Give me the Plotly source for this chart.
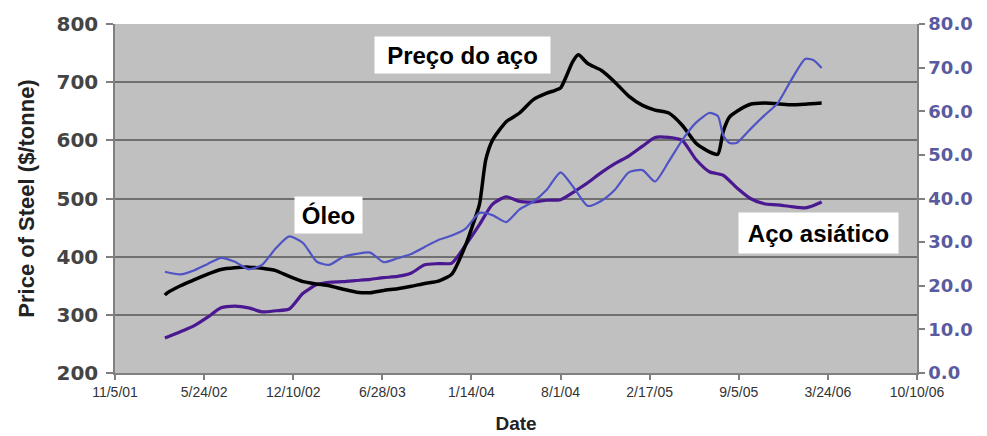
import plotly.graph_objects as go

# ---- data ----
steel_dates = ["2002-02-25", "2002-03-01", "2002-04-01", "2002-05-01", "2002-06-01", "2002-07-01",
               "2002-08-01", "2002-09-01", "2002-10-01", "2002-11-01", "2002-12-01",
               "2003-01-01", "2003-02-01", "2003-03-01", "2003-04-01", "2003-05-01", "2003-06-01",
               "2003-07-01", "2003-08-01", "2003-09-01", "2003-10-01", "2003-11-01", "2003-12-01",
               "2004-01-01", "2004-01-15", "2004-02-01", "2004-02-15", "2004-03-01", "2004-04-01",
               "2004-05-01", "2004-06-01", "2004-07-01", "2004-07-20", "2004-08-01", "2004-08-15",
               "2004-08-28", "2004-09-10", "2004-10-01", "2004-11-01", "2004-12-01",
               "2005-01-01", "2005-02-01", "2005-03-01", "2005-04-01", "2005-05-01", "2005-06-01",
               "2005-07-01", "2005-07-20", "2005-08-01", "2005-08-15", "2005-09-01", "2005-10-01",
               "2005-11-01", "2005-12-01", "2006-01-01", "2006-02-01", "2006-03-10"]
steel_price = [334, 337, 350, 360, 370, 378,
               381, 382, 380, 376, 366,
               357, 353, 350, 344, 339, 338,
               342, 345, 349, 354, 358, 370,
               420, 450, 490, 566, 600, 632,
               647, 670, 681, 686, 690, 712,
               735, 747, 732, 720, 700,
               676, 660, 652, 647, 626, 595,
               580, 576, 615, 640, 650, 662,
               664, 663, 661, 662, 664]

oil_dates = ["2002-02-25", "2002-04-01", "2002-05-01", "2002-06-01", "2002-07-01", "2002-08-01",
             "2002-09-01", "2002-10-01", "2002-11-01", "2002-12-01",
             "2003-01-01", "2003-02-01", "2003-03-01", "2003-04-01", "2003-05-01", "2003-06-01",
             "2003-07-01", "2003-08-01", "2003-09-01", "2003-10-01", "2003-11-01", "2003-12-01",
             "2004-01-01", "2004-02-01", "2004-03-01", "2004-04-01", "2004-05-01", "2004-06-01",
             "2004-07-01", "2004-08-01", "2004-09-01", "2004-10-01", "2004-11-01", "2004-12-01",
             "2005-01-01", "2005-02-01", "2005-03-01", "2005-04-01", "2005-05-01", "2005-06-01",
             "2005-07-01", "2005-07-20", "2005-08-01", "2005-08-15", "2005-09-01", "2005-10-01",
             "2005-11-01", "2005-12-01", "2006-01-01", "2006-02-01", "2006-02-20", "2006-03-10"]
oil_price = [23.2, 22.6, 23.5, 25.0, 26.4, 25.5,
             23.8, 24.8, 28.6, 31.3,
             29.8, 25.5, 24.8, 26.6, 27.3, 27.6,
             25.4, 26.3, 27.3, 28.9, 30.5, 31.5,
             33.1, 36.7, 36.2, 34.6, 37.5, 39.3,
             42.0, 46.0, 42.3, 38.3, 39.5, 42.0,
             46.0, 46.5, 43.9, 48.5, 53.4, 57.4,
             59.6, 58.9, 54.5, 52.7, 52.8, 55.9,
             59.0, 61.8, 67.2, 72.0, 71.7, 69.9]

asian_dates = ["2002-02-25", "2002-04-01", "2002-05-01", "2002-06-01", "2002-07-01", "2002-08-01",
               "2002-09-01", "2002-10-01", "2002-11-01", "2002-12-01",
               "2003-01-01", "2003-02-01", "2003-03-01", "2003-04-01", "2003-05-01", "2003-06-01",
               "2003-07-01", "2003-08-01", "2003-09-01", "2003-10-01", "2003-11-01", "2003-12-01",
               "2004-01-01", "2004-02-01", "2004-03-01", "2004-04-01", "2004-05-01", "2004-06-01",
               "2004-07-01", "2004-08-01", "2004-09-01", "2004-10-01", "2004-11-01", "2004-12-01",
               "2005-01-01", "2005-02-01", "2005-03-01", "2005-04-01", "2005-05-01", "2005-06-01",
               "2005-07-01", "2005-08-01", "2005-09-01", "2005-10-01", "2005-11-01", "2005-12-01",
               "2006-01-01", "2006-02-01", "2006-02-20", "2006-03-10"]
asian_price = [260, 271, 281, 296, 312, 315,
               312, 305, 307, 310,
               337, 352, 356, 357, 359, 361,
               364, 366, 372, 386, 388, 389,
               420, 455, 490, 503, 495, 494,
               497, 498, 512, 527, 545, 560,
               573, 590, 605, 605, 600, 567,
               546, 540, 518, 500, 491, 489,
               486, 484, 488, 494]

left_ticks = [200, 300, 400, 500, 600, 700, 800]
right_ticks = [0, 10, 20, 30, 40, 50, 60, 70, 80]

labels = ["Preço do aço", "Óleo", "Aço asiático"]

# ---- figure ----
fig = go.Figure()
fig.add_trace(go.Scatter(x=asian_dates, y=asian_price, mode="lines", name="Aço asiático",
                         line=dict(color="#4a1890", width=3.2, shape="spline", smoothing=0.6)))
fig.add_trace(go.Scatter(x=oil_dates, y=oil_price, mode="lines", name="Óleo", yaxis="y2",
                         line=dict(color="#5053c4", width=2.2, shape="spline", smoothing=0.6)))
fig.add_trace(go.Scatter(x=steel_dates, y=steel_price, mode="lines", name="Preço do aço",
                         line=dict(color="#000000", width=3.5, shape="spline", smoothing=0.6)))

# the page keeps an 8px body margin, so the figure is shifted by 8px
OFF = 8
W, H = 987 - OFF, 436 - OFF
L, R, T, B = 115 - OFF, 70, 24 - OFF, 63
PX0, PX1, PY0, PY1 = L, W - R, T, H - B


def px(x):
    return (x - OFF - PX0) / (PX1 - PX0)


def py(y):
    return (PY1 - (y - OFF)) / (PY1 - PY0)


ann_font = dict(family="Liberation Sans, Arial, sans-serif", size=24, color="#000000", weight="bold")
boxes = [(462.5, 55, 175, 36), (328.5, 215, 67, 36), (818.5, 233, 159, 40)]
annotations = []
for text, (cx, cy, bw, bh) in zip(labels, boxes):
    annotations.append(dict(text=text, xref="paper", yref="paper", x=px(cx), y=py(cy),
                            xanchor="center", yanchor="middle", showarrow=False,
                            bgcolor="#ffffff", borderpad=0, width=bw, height=bh,
                            font=ann_font))

fig.update_layout(
    template="none",
    width=W, height=H,
    margin=dict(l=L, r=R, t=T, b=B, pad=0, autoexpand=False),
    paper_bgcolor="#ffffff",
    plot_bgcolor="#c0c0c0",
    showlegend=False,
    annotations=annotations,
    xaxis=dict(
        type="date", automargin=False,
        range=["2001-11-05", "2006-10-10"],
        tickmode="linear", tick0="2001-11-05", dtick=200 * 86400000,
        tickformat="%-m/%-d/%y",
        showgrid=False, zeroline=False,
        showline=True, linecolor="#808080", linewidth=1.5,
        ticks="outside", ticklen=5, tickcolor="#808080", tickwidth=1.5,
        tickfont=dict(family="Liberation Sans, Arial, sans-serif", size=14, color="#333333"),
        title=dict(text="Date", standoff=18,
                   font=dict(family="Liberation Sans, Arial, sans-serif", size=19,
                             color="#222222", weight="bold")),
    ),
    yaxis=dict(
        automargin=False,
        range=[200, 800], tickmode="array", tickvals=left_ticks,
        showgrid=True, gridcolor="#707070", gridwidth=1.5, zeroline=False,
        showline=True, linecolor="#808080", linewidth=1.5,
        ticks="outside", ticklen=7, tickcolor="#808080", tickwidth=1.5,
        ticklabelstandoff=4,
        tickfont=dict(family="DejaVu Sans, sans-serif", size=20, color="#444444", weight="bold"),
        title=dict(text="Price of Steel ($/tonne)", standoff=16,
                   font=dict(family="Liberation Sans, Arial, sans-serif", size=22,
                             color="#222222", weight="bold")),
    ),
    yaxis2=dict(
        automargin=False,
        overlaying="y", side="right",
        range=[0, 80], tickmode="array", tickvals=right_ticks, tickformat=".1f",
        showgrid=False, zeroline=False,
        showline=True, linecolor="#808080", linewidth=1.5,
        ticks="outside", ticklen=6, tickcolor="#808080", tickwidth=1.5,
        tickfont=dict(family="DejaVu Sans, sans-serif", size=18, color="#5a5a9e", weight="bold"),
    ),
)

fig.write_html("out.html")
